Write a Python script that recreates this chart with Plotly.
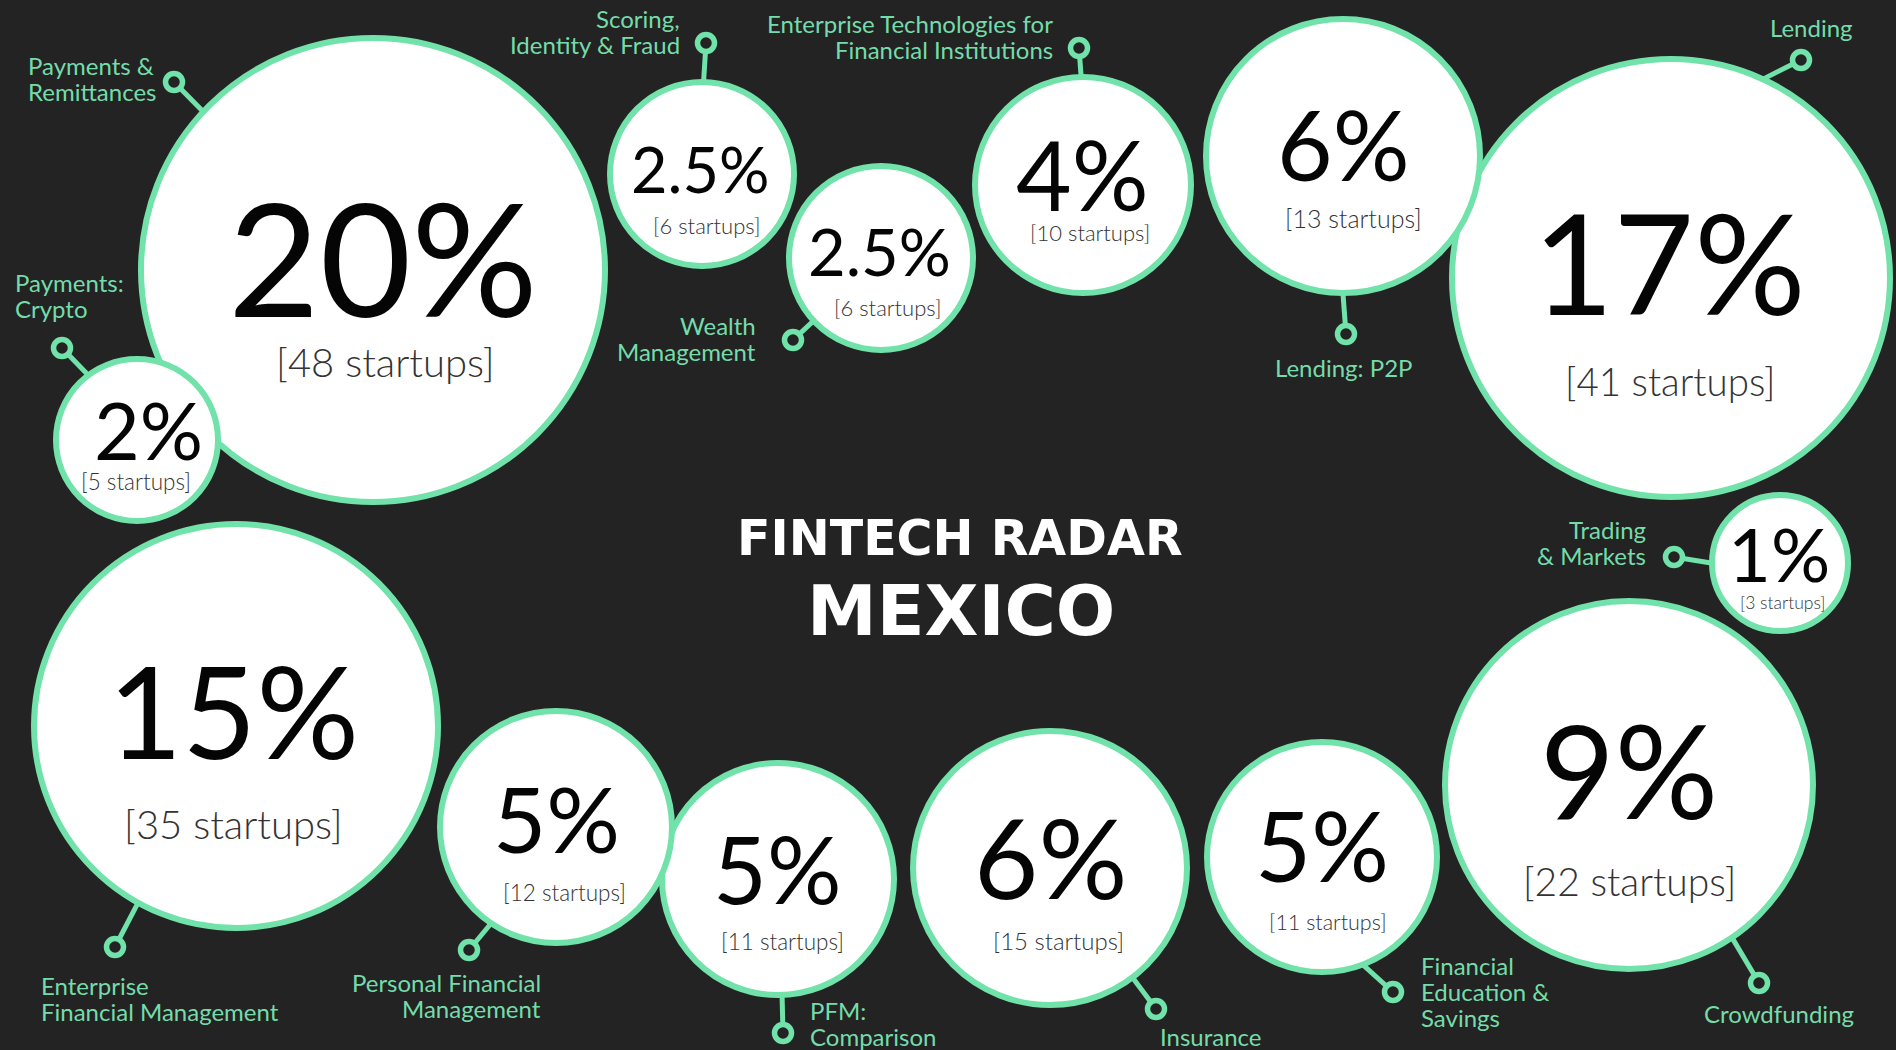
import math
import plotly.graph_objects as go

# ---------------- data ----------------
categories = [
    "Payments & Remittances", "Payments: Crypto", "Scoring, Identity & Fraud",
    "Wealth Management", "Enterprise Technologies for Financial Institutions",
    "Lending: P2P", "Lending", "Trading & Markets", "Crowdfunding",
    "Financial Education & Savings", "Insurance", "PFM: Comparison",
    "Personal Financial Management", "Enterprise Financial Management",
]
label_lines = [
    ["Payments &", "Remittances"], ["Payments:", "Crypto"], ["Scoring,", "Identity & Fraud"],
    ["Wealth", "Management"], ["Enterprise Technologies for", "Financial Institutions"],
    ["Lending: P2P"], ["Lending"], ["Trading", "& Markets"], ["Crowdfunding"],
    ["Financial", "Education &", "Savings"], ["Insurance"], ["PFM:", "Comparison"],
    ["Personal Financial", "Management"], ["Enterprise", "Financial Management"],
]
share_labels = ["20%", "2%", "2.5%", "2.5%", "4%", "6%", "17%", "1%", "9%", "5%", "6%", "5%", "5%", "15%"]
startups = [48, 5, 6, 6, 10, 13, 41, 3, 22, 11, 15, 11, 12, 35]
title_lines = ["FINTECH RADAR", "MEXICO"]

# ---------------- layout (pixel positions / sizes) ----------------
W, H = 1896, 1050
cx = [373, 137, 702, 881, 1083, 1343, 1671, 1780, 1629, 1322, 1050, 778, 556, 236]
cy = [270, 440, 174, 258, 185, 156, 278, 563, 785, 857, 868, 879, 827, 726]
rad = [235, 84, 95, 95, 111, 140, 222, 71, 187, 118, 140, 119, 119, 205]
anchor_deg = [-137, -127, -89, 137, -91, 90, -65, 180, 56, 69, 53, 88, 124, 119]
dot_x = [174, 62, 706, 793, 1079, 1346, 1801, 1674, 1759, 1393, 1156, 783, 469, 115]
dot_y = [82, 348, 43, 340, 48, 334, 60, 557, 983, 992, 1009, 1033, 950, 947]

lab_x = [26, 13, 682, 758, 1055, 1343, 1811, 1648, 1779, 1419, 1158, 808, 543, 39]
lab_y0 = [65, 282, 18, 325, 23, 367, 27, 529, 1013, 965, 1036, 1010, 982, 985]
lab_align = ["left", "left", "right", "right", "right", "center", "center", "right",
             "center", "left", "left", "left", "right", "left"]
LINE_STEP = 26
LABEL_SIZE = 24

pct_x = [383, 148, 700, 879, 1082, 1343, 1669, 1779, 1629, 1322, 1050, 777, 556, 233]
pct_y = [261, 432, 171, 253, 177, 147, 266, 556, 773, 848, 860, 871, 820, 714]
pct_size = [158, 79, 63, 65, 96, 96, 139, 74, 129, 97, 111, 93, 92, 128]

su_x = [385, 136, 707, 888, 1090, 1353, 1670, 1783, 1629, 1328, 1058, 782, 564, 233]
su_y = [362, 481, 225, 307, 232, 218, 381, 602, 881, 922, 940, 941, 892, 824]
su_size = [40, 22.5, 22, 22, 22, 25, 38.5, 17.5, 39, 21.5, 24, 22.5, 22.5, 40]

BG = "#232323"
GREEN = "#70e2aa"
LABEL_GREEN = "#74dcaa"
STROKE = 6
FONT = "Lato"

fig = go.Figure()
# invisible trace anchoring the bubble centres to the axes
fig.add_trace(go.Scatter(x=cx, y=cy, mode="markers", marker=dict(size=1, opacity=0),
                         text=categories, hoverinfo="text", showlegend=False))

shapes = []
# connector lines (drawn first so circles cover their inner ends)
for i in range(len(categories)):
    a = math.radians(anchor_deg[i])
    ex = cx[i] + (rad[i] - 2) * math.cos(a)
    ey = cy[i] + (rad[i] - 2) * math.sin(a)
    shapes.append(dict(type="line", xref="x", yref="y", x0=dot_x[i], y0=dot_y[i], x1=ex, y1=ey,
                       line=dict(color=GREEN, width=5), layer="above"))
# bubbles, largest first so smaller ones sit on top
order = sorted(range(len(categories)), key=lambda k: -rad[k])
for i in order:
    rr = rad[i] - STROKE / 2
    shapes.append(dict(type="circle", xref="x", yref="y",
                       x0=cx[i] - rr, x1=cx[i] + rr, y0=cy[i] - rr, y1=cy[i] + rr,
                       fillcolor="white", line=dict(color=GREEN, width=STROKE), layer="above"))
# connector end rings
for i in range(len(categories)):
    rr = 8.5
    shapes.append(dict(type="circle", xref="x", yref="y",
                       x0=dot_x[i] - rr, x1=dot_x[i] + rr, y0=dot_y[i] - rr, y1=dot_y[i] + rr,
                       fillcolor=BG, line=dict(color=GREEN, width=5.5), layer="above"))

ann = []
for i in range(len(categories)):
    ann.append(dict(x=pct_x[i], y=pct_y[i] - 0.032 * pct_size[i], xref="x", yref="y",
                    text=share_labels[i], showarrow=False, xanchor="center", yanchor="middle",
                    font=dict(family=FONT, size=pct_size[i], color="#050505", weight=400)))
    ann.append(dict(x=su_x[i], y=su_y[i], xref="x", yref="y",
                    text=f"[{startups[i]} startups]", showarrow=False, xanchor="center", yanchor="middle",
                    font=dict(family=FONT, size=su_size[i], color="#333333", weight=300)))
    for j, line in enumerate(label_lines[i]):
        ann.append(dict(x=lab_x[i], y=lab_y0[i] + j * LINE_STEP, xref="x", yref="y", text=line,
                        showarrow=False, xanchor=lab_align[i], yanchor="middle", align=lab_align[i],
                        font=dict(family=FONT, size=LABEL_SIZE, color=LABEL_GREEN)))

ann.append(dict(x=960, y=538, xref="x", yref="y", text=title_lines[0], showarrow=False,
                xanchor="center", yanchor="middle",
                font=dict(family="DejaVu Sans", size=49, color="white", weight="bold")))
ann.append(dict(x=961, y=611, xref="x", yref="y", text=title_lines[1], showarrow=False,
                xanchor="center", yanchor="middle",
                font=dict(family="DejaVu Sans", size=70, color="white", weight="bold")))

fig.update_layout(
    width=W, height=H, margin=dict(l=0, r=0, t=0, b=0),
    paper_bgcolor=BG, plot_bgcolor=BG,
    xaxis=dict(range=[0, W], visible=False, fixedrange=True),
    yaxis=dict(range=[H, 0], visible=False, fixedrange=True),
    shapes=shapes, annotations=ann, showlegend=False,
)

fig.write_html("out.html", config={"displayModeBar": False},
               post_script="document.body.style.margin='0';document.body.style.overflow='hidden';")
